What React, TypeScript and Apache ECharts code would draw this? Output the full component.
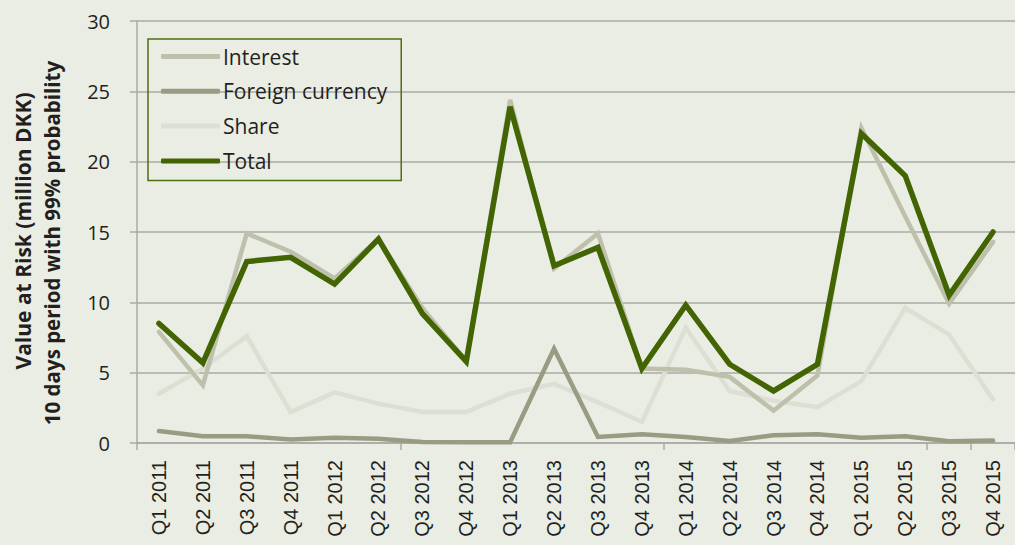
import React, { useEffect, useRef } from "react";
import * as echarts from "echarts";

const categories = [
  "Q1 2011", "Q2 2011", "Q3 2011", "Q4 2011",
  "Q1 2012", "Q2 2012", "Q3 2012", "Q4 2012",
  "Q1 2013", "Q2 2013", "Q3 2013", "Q4 2013",
  "Q1 2014", "Q2 2014", "Q3 2014", "Q4 2014",
  "Q1 2015", "Q2 2015", "Q3 2015", "Q4 2015",
];

const interest = [7.9, 4.1, 14.9, 13.6, 11.7, 14.5, 9.6, 5.8, 24.4, 12.4, 14.9, 5.3, 5.2, 4.7, 2.3, 4.8, 22.4, 16.1, 9.9, 14.3];
const foreignCurrency = [0.85, 0.48, 0.48, 0.25, 0.38, 0.3, 0.07, 0.05, 0.05, 6.7, 0.43, 0.62, 0.43, 0.14, 0.55, 0.62, 0.38, 0.48, 0.12, 0.17];
const share = [3.5, 5.3, 7.6, 2.2, 3.6, 2.8, 2.2, 2.2, 3.5, 4.2, 2.9, 1.5, 8.2, 3.7, 3.0, 2.55, 4.4, 9.6, 7.7, 3.1];
const total = [8.5, 5.7, 12.9, 13.2, 11.3, 14.5, 9.2, 5.8, 23.9, 12.6, 13.9, 5.3, 9.8, 5.6, 3.7, 5.6, 22.0, 19.0, 10.5, 15.0];

const legendNames = ["Interest", "Foreign currency", "Share", "Total"];
const yTitle1 = "Value at Risk (million DKK)";
const yTitle2 = "10 days period with 99% probability";

const BG = "#eaede3";
const GRID = "#a9aaa6";
const FONT = "'Open Sans', sans-serif";

export default function App() {
  const ref = useRef<HTMLDivElement>(null);

  useEffect(() => {
    if (!ref.current) return;
    const chart = echarts.init(ref.current, null, { renderer: "svg" });
    const mk = (name: string, data: number[], color: string, width: number, z: number) => ({
      name,
      type: "line",
      data,
      symbol: "none",
      showSymbol: false,
      z,
      lineStyle: { color, width, cap: "round", join: "miter" },
      itemStyle: { color },
    });
    chart.setOption({
      animation: false,
      backgroundColor: BG,
      grid: { left: 137, top: 21, width: 888, height: 422, containLabel: false },
      legend: {
        orient: "vertical",
        left: 148,
        top: 39,
        padding: [7, 14, 9, 13],
        borderColor: "#4e6d12",
        borderWidth: 1.5,
        icon: "roundRect",
        itemWidth: 59,
        itemHeight: 5,
        itemGap: 13.8,
        textStyle: { fontFamily: FONT, fontSize: 21, color: "#231f20", lineHeight: 20, padding: [0, 0, 0, -2] },
        data: legendNames,
      },
      xAxis: {
        type: "category",
        data: categories,
        boundaryGap: true,
        axisLine: { show: true, lineStyle: { color: GRID, width: 1.5 } },
        axisTick: { show: true, interval: 5, length: 7, lineStyle: { color: GRID, width: 1.5 } },
        axisLabel: {
          interval: 0,
          rotate: 90,
          margin: 17,
          fontFamily: "'Liberation Sans', Arial, sans-serif",
          fontSize: 20,
          color: "#231f20",
        },
        splitLine: { show: false },
      },
      yAxis: {
        type: "value",
        min: 0,
        max: 30,
        interval: 5,
        axisLine: { show: true, lineStyle: { color: GRID, width: 1.5 } },
        axisTick: { show: true, length: 7, lineStyle: { color: GRID, width: 1.5 } },
        axisLabel: { margin: 27, fontFamily: FONT, fontSize: 20, color: "#231f20" },
        splitLine: { show: true, lineStyle: { color: GRID, width: 1.5 } },
      },
      graphic: [
        {
          type: "text",
          x: 23,
          y: 231,
          rotation: Math.PI / 2,
          style: {
            text: yTitle1,
            font: `bold 21px ${FONT}`,
            fill: "#231f20",
            align: "center",
            verticalAlign: "middle",
          },
        },
        {
          type: "text",
          x: 52,
          y: 243,
          rotation: Math.PI / 2,
          style: {
            text: yTitle2,
            font: `bold 20.5px ${FONT}`,
            fill: "#231f20",
            align: "center",
            verticalAlign: "middle",
          },
        },
      ],
      series: [
        mk(legendNames[0], interest, "#bec0ac", 4.5, 2),
        mk(legendNames[1], foreignCurrency, "#999c83", 4.5, 3),
        mk(legendNames[2], share, "#dcdfd3", 4.5, 1),
        mk(legendNames[3], total, "#436402", 5.5, 4),
      ],
    });
    return () => chart.dispose();
  }, []);

  return <div ref={ref} style={{ width: 1015, height: 545, position: "absolute", left: 0, top: 0 }} />;
}
